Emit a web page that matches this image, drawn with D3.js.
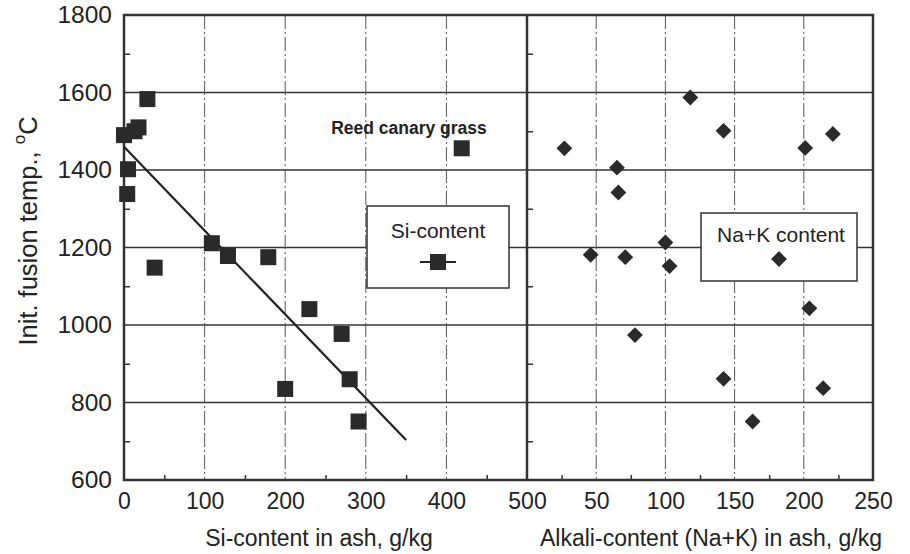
<!DOCTYPE html>
<html>
<script src="https://cdn.jsdelivr.net/npm/d3@7"></script>
<style>
  body { margin: 0; background: #fff; }
  text { font-family: "Liberation Sans", Arial, sans-serif; fill: #222; }
</style>
<body>
<svg width="910" height="554"></svg>
<script>
// Si content in ash (g/kg) vs initial fusion temp (C)
var siX = [0, 5, 4, 13, 18, 29, 38, 109, 129, 179, 230, 270, 200, 280, 291, 419];
var siT = [1490, 1402, 1338, 1500, 1510, 1583, 1148, 1211, 1178, 1175, 1041, 977, 835, 860, 751, 1456];
// regression line end points
var fitX = [0, 350];
var fitT = [1460, 703];
// alkali content (Na+K) in ash vs initial fusion temp
var alkX = [27, 65, 66, 118, 142, 201, 221, 46, 71, 100, 103, 204, 78, 142, 214, 163];
var alkT = [1456, 1406, 1342, 1587, 1501, 1457, 1493, 1181, 1175, 1213, 1152, 1043, 974, 861, 837, 751];

var yTicks = [600, 800, 1000, 1200, 1400, 1600, 1800];
var siTicks = [0, 100, 200, 300, 400, 500];
var alkTicks = [50, 100, 150, 200, 250];

var svg = d3.select("svg");
var pl = 124, pm = 527, pr = 873, pt = 15, pb = 480;

var xs = d3.scaleLinear().domain([0, 500]).range([pl, pm]);
var xa = d3.scaleLinear().domain([0, 250]).range([pm, pr]);
var ys = d3.scaleLinear().domain([600, 1800]).range([pb, pt]);

// horizontal grid
svg.append("g").selectAll("line")
  .data(yTicks.slice(1, -1))
  .enter().append("line")
  .attr("x1", pl).attr("x2", pr)
  .attr("y1", function(d) { return ys(d); })
  .attr("y2", function(d) { return ys(d); })
  .attr("stroke", "#333").attr("stroke-width", 1.5);

// vertical grid, dash-dot
svg.append("g").selectAll("line")
  .data(siTicks.slice(1, -1))
  .enter().append("line")
  .attr("x1", function(d) { return xs(d); })
  .attr("x2", function(d) { return xs(d); })
  .attr("y1", pt).attr("y2", pb)
  .attr("stroke", "#555").attr("stroke-width", 1)
  .attr("stroke-dasharray", "14,3,2,3");
svg.append("g").selectAll("line")
  .data(alkTicks.slice(0, -1))
  .enter().append("line")
  .attr("x1", function(d) { return xa(d); })
  .attr("x2", function(d) { return xa(d); })
  .attr("y1", pt).attr("y2", pb)
  .attr("stroke", "#555").attr("stroke-width", 1)
  .attr("stroke-dasharray", "14,3,2,3");

// minor ticks
function minor(g) { g.select(".domain").remove(); g.selectAll("line").attr("stroke", "#333").attr("stroke-width", 1.5); }
var yMinor = [700, 900, 1100, 1300, 1500, 1700];
svg.append("g").attr("transform", "translate(" + pl + ",0)")
  .call(d3.axisRight(ys).tickValues(yMinor).tickSize(6).tickFormat("")).call(minor);
svg.append("g").attr("transform", "translate(" + pm + ",0)")
  .call(d3.axisRight(ys).tickValues(yMinor).tickSize(6).tickFormat("")).call(minor);
svg.append("g").attr("transform", "translate(0," + pb + ")")
  .call(d3.axisTop(xs).tickValues([50, 150, 250, 350, 450]).tickSize(5).tickFormat("")).call(minor);
svg.append("g").attr("transform", "translate(0," + pb + ")")
  .call(d3.axisTop(xa).tickValues([25, 75, 125, 175, 225]).tickSize(5).tickFormat("")).call(minor);

// frame and divider
svg.append("rect")
  .attr("x", pl).attr("y", pt)
  .attr("width", pr - pl).attr("height", pb - pt)
  .attr("fill", "none").attr("stroke", "#333").attr("stroke-width", 2.5);
svg.append("line")
  .attr("x1", pm).attr("x2", pm).attr("y1", pt).attr("y2", pb)
  .attr("stroke", "#333").attr("stroke-width", 2.5);

// tick labels
function labels(size) {
  return function(g) {
    g.select(".domain").remove();
    g.selectAll("line").remove();
    g.selectAll("text").attr("font-size", size).style("font-family", "Liberation Sans, Arial, sans-serif").attr("fill", "#222");
  };
}
svg.append("g").attr("transform", "translate(" + pl + ",0)")
  .call(d3.axisLeft(ys).tickValues(yTicks).tickSize(0).tickPadding(12).tickFormat(d3.format("d"))).call(labels(24.5));
svg.append("g").attr("transform", "translate(0," + pb + ")")
  .call(d3.axisBottom(xs).tickValues(siTicks).tickSize(0).tickPadding(13)).call(labels(23));
svg.append("g").attr("transform", "translate(0," + pb + ")")
  .call(d3.axisBottom(xa).tickValues(alkTicks).tickSize(0).tickPadding(13)).call(labels(23));

// axis titles
svg.append("text")
  .attr("x", 319).attr("y", 546)
  .attr("text-anchor", "middle").attr("font-size", 23)
  .text("Si-content in ash, g/kg");
svg.append("text")
  .attr("x", 711).attr("y", 546)
  .attr("text-anchor", "middle").attr("font-size", 23)
  .text("Alkali-content (Na+K) in ash, g/kg");
var yt = svg.append("text")
  .attr("transform", "translate(37,231)rotate(-90)")
  .attr("text-anchor", "middle").attr("font-size", 25.5);
yt.append("tspan").text("Init. fusion temp., ");
yt.append("tspan").attr("font-size", 17).attr("dy", -12).text("o");
yt.append("tspan").attr("dy", 12).text("C");

// regression line
svg.append("line")
  .attr("x1", xs(fitX[0])).attr("y1", ys(fitT[0]))
  .attr("x2", xs(fitX[1])).attr("y2", ys(fitT[1]))
  .attr("stroke", "#222").attr("stroke-width", 2.2);

// square markers
var sq = 16;
svg.append("g").selectAll("rect")
  .data(siX)
  .enter().append("rect")
  .attr("x", function(d) { return xs(d) - sq / 2; })
  .attr("y", function(d, i) { return ys(siT[i]) - sq / 2; })
  .attr("width", sq).attr("height", sq)
  .attr("fill", "#2a2a2a");

// diamond markers
var diamond = d3.symbol().type(d3.symbolDiamond2).size(160);
svg.append("g").selectAll("path")
  .data(alkX)
  .enter().append("path")
  .attr("d", diamond)
  .attr("transform", function(d, i) { return "translate(" + xa(d) + "," + ys(alkT[i]) + ")"; })
  .attr("fill", "#2a2a2a");

svg.append("text")
  .attr("x", 409).attr("y", 134)
  .attr("text-anchor", "middle").attr("font-size", 17.5).attr("font-weight", "bold")
  .text("Reed canary grass");

// legend boxes
var lg1 = svg.append("g").attr("transform", "translate(367,206)");
lg1.append("rect").attr("width", 142).attr("height", 82)
  .attr("fill", "#fff").attr("stroke", "#333").attr("stroke-width", 1.5);
lg1.append("text").attr("x", 71).attr("y", 32).attr("text-anchor", "middle")
  .attr("font-size", 21).text("Si-content");
lg1.append("line").attr("x1", 53).attr("x2", 89).attr("y1", 56).attr("y2", 56)
  .attr("stroke", "#222").attr("stroke-width", 2);
lg1.append("rect").attr("x", 71 - sq / 2).attr("y", 56 - sq / 2)
  .attr("width", sq).attr("height", sq).attr("fill", "#2a2a2a");

var lg2 = svg.append("g").attr("transform", "translate(701,213)");
lg2.append("rect").attr("width", 156).attr("height", 68)
  .attr("fill", "#fff").attr("stroke", "#333").attr("stroke-width", 1.5);
lg2.append("text").attr("x", 80).attr("y", 29).attr("text-anchor", "middle")
  .attr("font-size", 21).text("Na+K content");
lg2.append("path").attr("d", diamond)
  .attr("transform", "translate(78,46)").attr("fill", "#2a2a2a");
</script>
</body>
</html>
